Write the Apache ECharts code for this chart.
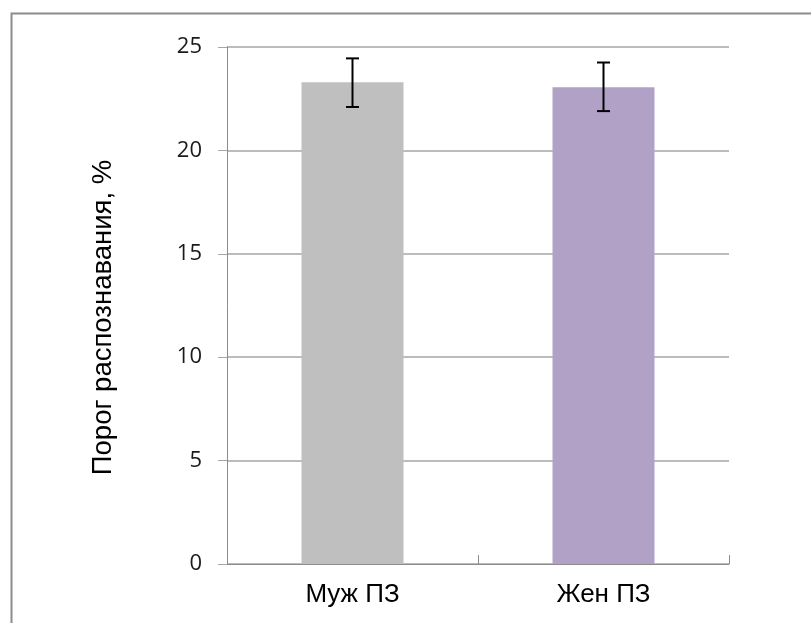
<!DOCTYPE html>
<html>
<head>
<meta charset="utf-8">
<script src="https://cdn.jsdelivr.net/npm/echarts@6/dist/echarts.min.js"></script>
<style>
html,body{margin:0;padding:0;background:#fff;}
#c{width:811px;height:623px;}
</style>
</head>
<body>
<div id="c"></div>
<script>
const categories = ['Муж ПЗ', 'Жен ПЗ'];
const values = [23.3, 23.05];
const errLow = [22.1, 21.9];
const errHigh = [24.45, 24.25];
const barColors = ['#bfbfbf', '#b2a1c7'];
const yTicks = { min: 0, max: 25, interval: 5 };
const yTitle = 'Порог распознавания, %';

const chart = echarts.init(document.getElementById('c'), null, { renderer: 'canvas' });

const option = {
  animation: false,
  backgroundColor: '#ffffff',
  graphic: [{
    type: 'rect',
    left: 9, top: 11,
    shape: { width: 900, height: 700 },
    style: { fill: 'none', stroke: '#8c8c8c', lineWidth: 2 },
    silent: true
  }],
  grid: { left: 227, top: 47, right: 82, bottom: 59 },
  xAxis: {
    type: 'category',
    data: categories,
    axisLine: { show: true, lineStyle: { color: '#8c8c8c', width: 1 } },
    axisTick: { show: true, inside: true, length: 9, lineStyle: { color: '#8c8c8c' } },
    axisLabel: { fontFamily: 'Liberation Sans, Arial', fontSize: 26, color: '#000', margin: 18 }
  },
  yAxis: {
    type: 'value',
    min: yTicks.min, max: yTicks.max, interval: yTicks.interval,
    name: yTitle,
    nameLocation: 'middle',
    nameRotate: 90,
    nameGap: 110,
    nameTextStyle: { fontFamily: 'Liberation Sans, Arial', fontSize: 27.5, color: '#000', padding: [0, 24, 0, 0] },
    axisLine: { show: true, lineStyle: { color: '#8c8c8c', width: 1 } },
    axisTick: { show: true, length: 9, lineStyle: { color: '#a6a6a6' } },
    axisLabel: { fontFamily: 'Open Sans', fontSize: 22, color: '#1a1a1a', margin: 25 },
    splitLine: { show: true, lineStyle: { color: '#a6a6a6', width: 1.5 } }
  },
  series: [
    {
      type: 'bar',
      barWidth: 102,
      data: values.map((v, i) => ({ value: v, itemStyle: { color: barColors[i] } }))
    },
    {
      type: 'custom',
      data: categories.map((c, i) => [i, errLow[i], errHigh[i]]),
      renderItem: function (params, api) {
        const x = api.value(0);
        const lo = api.coord([x, api.value(1)]);
        const hi = api.coord([x, api.value(2)]);
        const hw = 6.5;
        const st = { stroke: '#000', lineWidth: 2 };
        return {
          type: 'group',
          children: [
            { type: 'line', shape: { x1: lo[0], y1: lo[1], x2: hi[0], y2: hi[1] }, style: st },
            { type: 'line', shape: { x1: lo[0] - hw, y1: lo[1], x2: lo[0] + hw, y2: lo[1] }, style: st },
            { type: 'line', shape: { x1: hi[0] - hw, y1: hi[1], x2: hi[0] + hw, y2: hi[1] }, style: st }
          ]
        };
      },
      z: 10
    }
  ]
};
chart.setOption(option);
</script>
</body>
</html>
